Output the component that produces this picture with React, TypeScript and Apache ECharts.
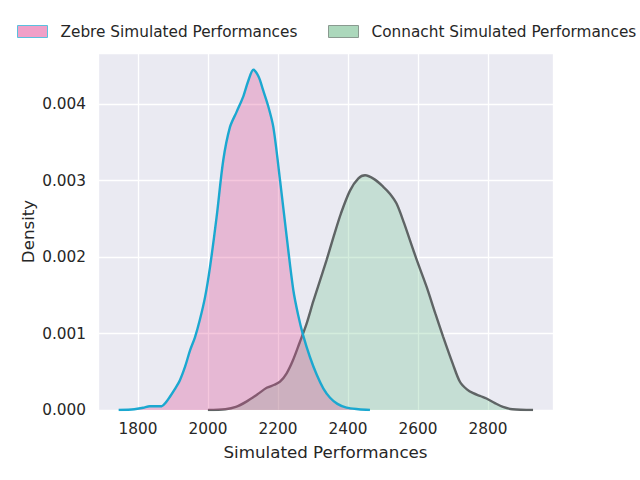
import React, { useEffect, useRef } from "react";
import * as echarts from "echarts";

const zebreX = [1745, 1790, 1815, 1834, 1850, 1868, 1880, 1891, 1905, 1920, 1935, 1949, 1963, 1977, 1992, 2006, 2025, 2044, 2063, 2082, 2101, 2115, 2130, 2145, 2158, 2172, 2187, 2206, 2225, 2244, 2258, 2272, 2291, 2311, 2330, 2349, 2370, 2396, 2430, 2463];
const zebreY = [0, 0.00001, 0.00003, 0.00005, 0.00005, 0.00005, 0.0001, 0.00017, 0.00027, 0.00039, 0.00057, 0.00078, 0.00095, 0.00118, 0.00148, 0.00187, 0.00253, 0.00327, 0.0037, 0.0039, 0.0041, 0.0043, 0.00445, 0.00436, 0.00418, 0.00398, 0.0037, 0.00301, 0.00227, 0.00157, 0.00124, 0.00098, 0.0007, 0.00046, 0.00028, 0.00016, 0.00008, 0.00003, 0.00001, 0];

const connachtX = [2000, 2050, 2080, 2110, 2140, 2168, 2190, 2206, 2225, 2243, 2262, 2282, 2301, 2320, 2339, 2360, 2380, 2406, 2430, 2449, 2475, 2501, 2520, 2539, 2560, 2587, 2605, 2625, 2650, 2672, 2700, 2720, 2740, 2758, 2780, 2796, 2820, 2843, 2870, 2929];
const connachtY = [0, 0.00001, 0.00004, 0.00011, 0.0002, 0.00029, 0.00033, 0.00037, 0.00048, 0.00065, 0.00088, 0.00113, 0.00142, 0.00169, 0.00196, 0.00228, 0.00257, 0.00287, 0.00303, 0.00307, 0.00302, 0.00292, 0.00283, 0.0027, 0.00245, 0.00209, 0.00186, 0.00161, 0.00126, 0.00096, 0.0006, 0.00037, 0.00027, 0.00022, 0.00018, 0.00015, 0.00009, 0.00004, 0.00001, 0];

const seriesNames = ["Zebre Simulated Performances", "Connacht Simulated Performances"];

const FONT = "DejaVu Sans";
const TXT = "#262626";

export default function App() {
  const ref = useRef<HTMLDivElement>(null);
  useEffect(() => {
    if (!ref.current) return;
    const chart = echarts.init(ref.current, null, { renderer: "svg" });
    const zebre = zebreX.map((x, i) => [x, zebreY[i]]);
    const connacht = connachtX.map((x, i) => [x, connachtY[i]]);
    chart.setOption({
      animation: false,
      backgroundColor: "#ffffff",
      grid: {
        left: 98,
        right: 87,
        top: 53,
        bottom: 70,
        show: true,
        backgroundColor: "#eaeaf2",
        borderWidth: 0,
        containLabel: false,
      },
      legend: [
        {
          left: 17,
          top: 24,
          padding: 0,
          itemWidth: 30,
          itemHeight: 12,
          textStyle: { fontFamily: FONT, fontSize: 15.3, color: TXT, padding: [0, 0, 0, 8] },
          data: [
            {
              name: seriesNames[0],
              icon: "rect",
              itemStyle: { color: "#f0a0c8", borderColor: "#5bc0de", borderWidth: 1 },
            },
          ],
        },
        {
          left: 328,
          top: 24,
          padding: 0,
          itemWidth: 30,
          itemHeight: 12,
          textStyle: { fontFamily: FONT, fontSize: 15.3, color: TXT, padding: [0, 0, 0, 8] },
          data: [
            {
              name: seriesNames[1],
              icon: "rect",
              itemStyle: { color: "#acd8bc", borderColor: "#8a9a90", borderWidth: 1 },
            },
          ],
        },
      ],
      xAxis: {
        type: "value",
        min: 1686,
        max: 2986,
        splitNumber: 6,
        name: "Simulated Performances",
        nameLocation: "middle",
        nameGap: 33,
        nameMoveOverlap: false,
        nameTextStyle: { fontFamily: FONT, fontSize: 16.7, color: TXT },
        axisLine: { show: false },
        axisTick: { show: false },
        axisLabel: {
          fontFamily: FONT,
          fontSize: 15.3,
          color: TXT,
          margin: 11,
          showMinLabel: false,
          showMaxLabel: false,
          formatter: (v: number) => (Math.abs(v % 200) < 1e-6 ? String(v) : ""),
        },
        splitLine: { show: true, lineStyle: { color: "#ffffff", width: 1.3 } },
      },
      yAxis: {
        type: "value",
        min: 0,
        max: 0.00467,
        interval: 0.001,
        name: "Density",
        nameLocation: "middle",
        nameGap: 62,
        nameMoveOverlap: false,
        nameTextStyle: { fontFamily: FONT, fontSize: 16.7, color: TXT },
        axisLine: { show: false },
        axisTick: { show: false },
        axisLabel: {
          fontFamily: FONT,
          fontSize: 15.3,
          color: TXT,
          margin: 12,
          showMaxLabel: false,
          formatter: (v: number) => v.toFixed(3),
        },
        splitLine: { show: true, lineStyle: { color: "#ffffff", width: 1.3 } },
      },
      series: [
        {
          name: seriesNames[1],
          type: "line",
          data: connacht,
          smooth: 0.3,
          showSymbol: false,
          lineStyle: { color: "#5f6465", width: 2.4 },
          itemStyle: { color: "#acd8bc" },
          areaStyle: { color: "#72c58e", opacity: 0.3 },
          z: 2,
        },
        {
          name: seriesNames[0],
          type: "line",
          data: zebre,
          smooth: 0.3,
          showSymbol: false,
          lineStyle: { color: "#1ba8d0", width: 2.4 },
          itemStyle: { color: "#f0a0c8" },
          areaStyle: { color: "#dd478e", opacity: 0.3 },
          z: 3,
        },
      ],
    });
    return () => chart.dispose();
  }, []);
  return (
    <div
      ref={ref}
      style={{ position: "absolute", left: 0, top: 0, width: 640, height: 480 }}
    />
  );
}
